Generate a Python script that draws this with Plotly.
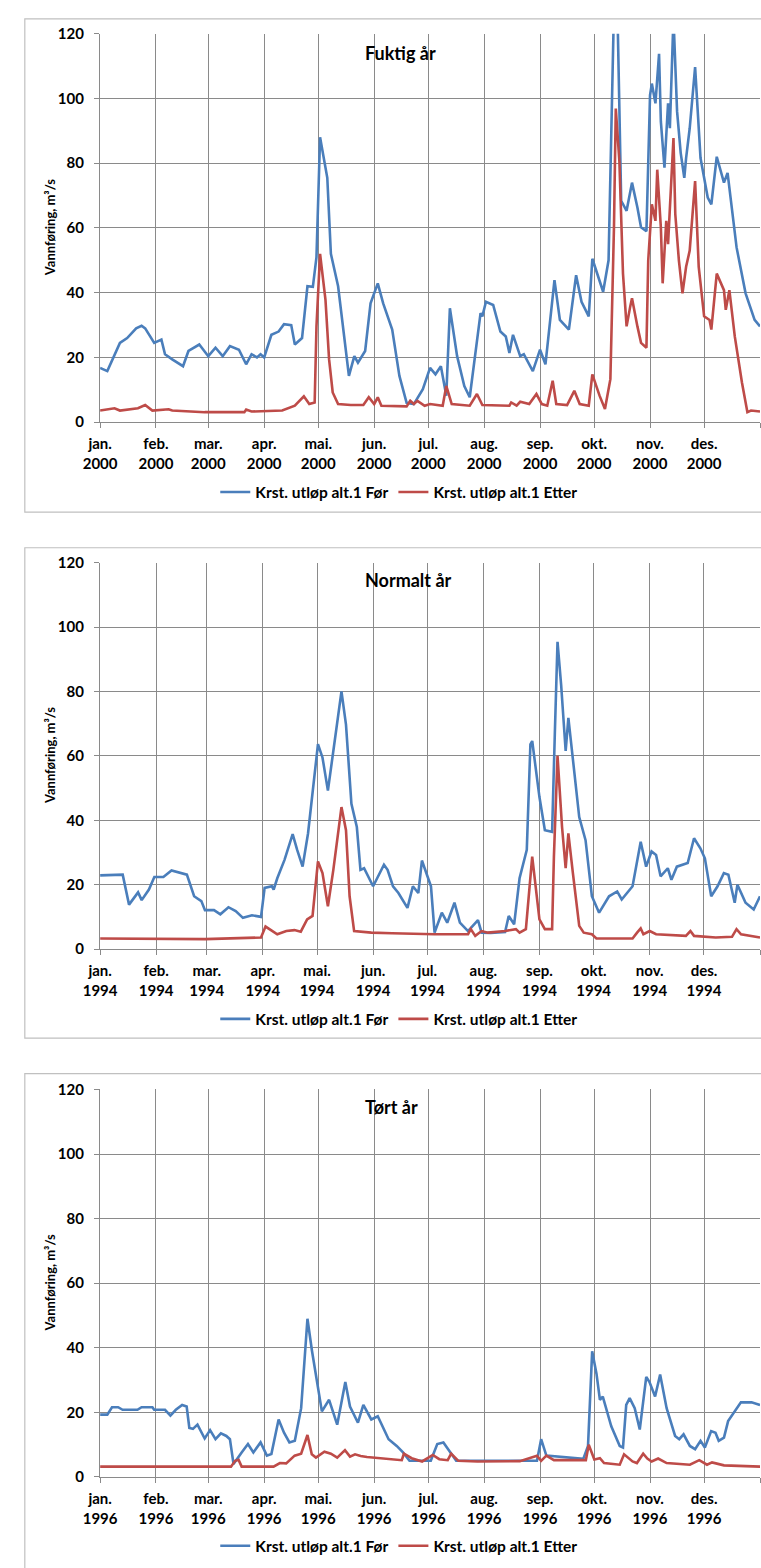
import pandas as pd
import plotly.graph_objects as go

W, H = 761, 1568
FONT = "Lato"

month_labels = ["jan.", "feb.", "mar.", "apr.", "mai.", "jun.", "jul.", "aug.", "sep.", "okt.", "nov.", "des."]
y_ticks = [0, 20, 40, 60, 80, 100, 120]
name_for = "Krst. utløp alt.1 Før"
name_etter = "Krst. utløp alt.1 Etter"
y_title = "Vannføring, m³/s"

# ---- Fuktig år (2000): day offset from 1 Jan, value m3/s ----
wet_year = 2000
wet_title = "Fuktig år"
wet_for_days = [0,4,11,15,20,23,25,28,30,34,36,40,46,49,55,60,64,68,72,77,81,84,87,89,91,95,99,102,106,108,
                112,115,118,120,122,126,128,132,136,138,141,143,147,150,154,157,162,166,170,174,179,183,186,189,192,194,198,202,205,211,
                212,214,218,222,225,227,229,233,235,240,244,247,252,255,260,264,267,271,273,279,282,285,287,289,292,295,298,300,303,305,
                306,308,310,311,313,315,316,318,320,322,324,325,327,330,333,337,339,342,346,348,353,358,363,366]
wet_for_vals = [16.8,15.8,24.5,26,29,29.8,29,26.5,24.5,25.5,21,19.4,17.3,22,24,20.4,23,20.4,23.5,22.4,
                17.9,21,20,21,20,27,28,30.3,30,24,26,42,41.8,51,88,75.5,52,42,24.5,14.3,
                20.4,18.4,22,36.7,42.9,36.7,28.6,14.3,6,5.6,10.2,16.8,14.8,17.3,8.2,35.2,20.4,11.2,7.7,33.7,
                32.7,37.2,36.2,28,26.5,21.4,27,20.4,21,15.8,22.4,17.9,43.9,31.6,28.6,45.4,37.2,32.7,50.5,40.3,
                50,128,125,68.4,65.3,74,66.3,60.2,59,101,104.6,98.5,113.8,92.9,78.6,98.5,90.8,125,96,83.2,
                75.5,81.6,90.8,109.7,81.6,69.4,67.3,82,74,77,54,39.8,31.6,29.6]
wet_etter_days = [0,8,11,21,25,29,38,40,58,80,81,84,101,108,113,116,119,120,122,125,
                  127,129,132,139,146,149,152,154,156,170,172,174,176,180,183,190,192,195,205,209,
                  212,227,228,231,233,238,242,245,248,251,253,259,263,266,271,273,277,280,283,285,
                  286,288,290,292,294,295,298,300,303,304,306,308,309,311,312,314,315,318,319,321,
                  323,325,327,330,332,335,338,339,342,346,347,349,352,356,359,361,366]
wet_etter_vals = [3.6,4.3,3.6,4.3,5.3,3.6,4,3.6,3.1,3.1,3.9,3.3,3.6,5.1,8,5.6,6.1,29.6,52,37.8,
                  19.4,9.2,5.6,5.3,5.3,7.7,5.6,7.7,5.1,4.9,6.6,5.6,6.6,5.1,5.6,5.1,11.2,5.6,5.1,8.7,
                  5.3,5.1,6.1,5.1,6.3,5.6,8.7,5.6,5.1,12.8,5.6,5.3,9.7,5.6,5.1,14.8,8.2,4.1,13.3,60.2,
                  96.9,80.6,45.9,29.6,35.7,38.3,29.6,24.5,23,50,67.3,62.2,78,60.2,42.9,62.2,55,87.8,64.3,50,
                  39.8,48,53,74.5,48,32.7,31.6,28.6,45.9,40.8,34.7,40.8,26.5,12.2,3.1,3.6,3.3]

# ---- Normalt år (1994) ----
norm_year = 1994
norm_title = "Normalt år"
norm_for_days = [0,7,12.5,16,18,21,23,27,30,35,39.5,44,48,52,56,58,63,66.5,71,75,
                 79,84,89,91,95,96,98,102,106.5,109,112,115,117,120.5,123,126,129,133.5,136,139,
                 142,144,146,151,157,159,162,165,170,173,176,178,183,185,189,192,196,199,203.5,209,
                 211,216,224,226,229,232,236,238,239,243,246,250,251.5,253,255,257.5,259,261.5,265,268.5,
                 272,276,281.5,286,288.5,294.5,299,302,305,307.5,310,314,316,319,323,325,328.5,332,334.5,338,
                 341.5,345,347.5,351,352.5,357,361.5,365]
norm_for_vals = [22.9,22.9,23.1,13.8,15.4,17.6,15.2,18.5,22.4,22.4,24.4,23.6,23.1,16.4,14.9,12.1,12.1,10.8,13,11.8,
                 9.7,10.5,10,19,19.5,18.5,22,27.7,35.7,30.8,25.6,35.9,46.2,63.6,59.5,49.2,61.5,80,69.7,45.1,
                 37.9,24.6,25.1,19.5,26.2,24.6,19.5,17.4,12.8,19.5,17.4,27.5,19.5,5.1,11.3,8.2,14.4,8.2,5.6,9,
                 5.1,5.0,5.3,10.3,7.7,22,30.8,63.6,64.6,47.2,36.9,36.4,66.7,95.4,82,61.5,71.8,59.5,41,33.8,
                 16.4,11.3,16.4,17.9,15.4,19.5,33.3,25.6,30.3,29.2,22.6,25.1,21.5,25.6,26.2,26.7,34.4,31.3,28.2,16.4,
                 19.5,23.6,23.1,14.4,20,14.4,12.3,16.4]
norm_etter_days = [0,58,89,91.5,94.5,98,103,107.5,111,114.5,117.5,120.5,123,126,129,133.5,136,138,140.5,150,
                   161.5,185,203.5,205,207.5,211,214.5,224,230,232,235.5,239,243,246,250,251,253,255.5,257.5,259,
                   261.5,265,267.5,272,274.5,294.5,297,299,300.5,304,307.5,314.5,324,326.5,328.5,340.5,349.5,352,354.5,365]
norm_etter_vals = [3.3,3.1,3.6,7,5.9,4.6,5.6,5.9,5.4,9.2,10.3,27.2,23.6,13.3,24.6,44.1,36.9,16.4,5.6,5.1,
                   4.9,4.6,4.6,6.2,4.1,5.6,5.1,5.6,6.2,5.1,6.2,28.7,9.2,6.2,6.2,28.7,60,37.9,25.1,35.9,
                   23.6,7.2,5.1,4.6,3.3,3.3,5.1,6.4,4.6,5.6,4.6,4.3,4.1,5.6,4.1,3.6,3.8,6.2,4.6,3.6]

# ---- Tørt år (1996) ----
dry_year = 1996
dry_title = "Tørt år"
dry_for_days = [0,4,6.6,10,12.5,20.7,23,29,30,36,39,42,45.5,48,49.5,51.5,54,58,61,64,
                67,70,72,74,78.5,82,85,89,92.5,95,99,102,105,108,111.5,115,117.5,119.7,123,127,
                131.5,136,138.6,143,146,150.4,154,160,164.5,168,171.6,183.4,187,190.4,194,197.5,242.3,244.6,247.5,268,
                270.6,272.9,275.3,277.2,278.8,283.5,288.2,290,291.8,293.7,296.5,299.3,302.9,304.7,307.8,310.6,314.2,318.9,321.2,323.6,
                327.1,330,333,335.4,338.9,341.3,343.1,346,348.3,351.9,355.4,361.3,366]
dry_for_vals = [19.3,19.3,21.6,21.6,20.8,20.8,21.6,21.6,20.8,20.8,19,20.8,22.3,21.8,15.2,14.9,16.2,11.9,14.5,11.7,
                13.5,12.7,11.7,4,7.6,10.2,7.6,10.7,6.6,7.1,17.8,13.7,10.7,11.2,21.3,49,39.1,32,20.3,23.9,
                16.2,29.4,21.8,16.8,22.3,17.8,18.8,11.7,9.6,7.6,5.0,5.0,10.2,10.7,7.6,5.0,5.0,11.7,6.6,5.6,
                9.6,38.9,32,23.9,24.9,15.7,9.6,9.1,22.3,24.4,21.3,14.7,31,29.4,24.9,31.7,21.3,12.7,11.7,13.2,
                9.6,8.6,11.2,9.1,14.2,13.7,11.2,12.2,17.3,20.3,23.1,23.1,22.3]
dry_etter_days = [0,72.6,74.9,76.8,78.5,96.2,99.7,103.2,107.9,111.5,115,117.4,119.7,124.4,128,131.5,135.8,138.6,141.4,144.5,
                  148,152.7,162.2,167.3,168.5,172.8,178.6,184.5,188.1,192.8,194.7,198.7,209.3,232.8,242.3,244.6,247.5,251.7,269.4,271,
                  274.1,277.2,279.5,288.2,290.6,295.3,297.7,301.2,303.5,305.9,309.5,314.2,327.1,332.3,336.6,339.4,346,366]
dry_etter_vals = [3.2,3.2,5.0,5.3,3.2,3.2,4.3,4.2,6.6,7.2,13,7,6,7.8,7.2,6,8.3,6.3,7,6.5,
                  6.2,6,5.4,5.2,7.2,5.8,4.8,6.8,5.5,5.2,7.2,5,4.8,4.9,6.6,5,6.6,5.2,5.2,10,
                  5.4,5.8,4.3,3.8,7,4.8,4.3,7.2,5.7,4.8,5.7,4.3,3.8,5.2,3.8,4.5,3.6,3.2]

BLUE = "#4A7EBB"
RED = "#BE4B48"
GRID = "#8A8A8A"
BOX = "#C0C0C0"

def px_x(x):
    return x / W

def px_y(y):
    return 1 - y / H

panels = [
    dict(year=wet_year, title=wet_title, fd=wet_for_days, fv=wet_for_vals, ed=wet_etter_days, ev=wet_etter_vals,
         top=24, bottom=417, box=(9, 508), title_y=44, legend_y=488),
    dict(year=norm_year, title=norm_title, fd=norm_for_days, fv=norm_for_vals, ed=norm_etter_days, ev=norm_etter_vals,
         top=559, bottom=950, box=(544, 1040), title_y=577, legend_y=1021),
    dict(year=dry_year, title=dry_title, fd=dry_for_days, fv=dry_for_vals, ed=dry_etter_days, ev=dry_etter_vals,
         top=1092, bottom=1484, box=(1076, 1600), title_y=1110, legend_y=1554),
]

PLOT_L, PLOT_R = 85, 760

fig = go.Figure()
layout = dict(
    width=W, height=H, margin=dict(l=0, r=0, t=0, b=0),
    paper_bgcolor="white", plot_bgcolor="white", showlegend=True,
    annotations=[], shapes=[],
)

for i, p in enumerate(panels, start=1):
    sfx = "" if i == 1 else str(i)
    base = pd.Timestamp(f"{p['year']}-01-01")
    fx = base + pd.to_timedelta(p["fd"], unit="D")
    ex = base + pd.to_timedelta(p["ed"], unit="D")
    leg = "legend" if i == 1 else f"legend{i}"
    fig.add_trace(go.Scatter(x=fx, y=p["fv"], mode="lines", name=name_for,
                             line=dict(color=BLUE, width=2.6), xaxis=f"x{sfx}", yaxis=f"y{sfx}", legend=leg))
    fig.add_trace(go.Scatter(x=ex, y=p["ev"], mode="lines", name=name_etter,
                             line=dict(color=RED, width=2.6), xaxis=f"x{sfx}", yaxis=f"y{sfx}", legend=leg))

    tickvals = [pd.Timestamp(f"{p['year']}-{m:02d}-01") for m in range(1, 13)] + [pd.Timestamp(f"{p['year'] + 1}-01-01")]
    ticktext = [f"{lab}<br>{p['year']}" for lab in month_labels] + [""]
    layout[f"xaxis{sfx}"] = dict(
        domain=[px_x(PLOT_L), px_x(PLOT_R)], anchor=f"y{sfx}", type="date",
        range=[base, pd.Timestamp(f"{p['year'] + 1}-01-01")],
        tickmode="array", tickvals=tickvals, ticktext=ticktext,
        showgrid=True, gridcolor=GRID, gridwidth=1.4,
        ticks="outside", ticklen=5, tickcolor=GRID, tickwidth=1.4,
        showline=True, linecolor=GRID, linewidth=1.4,
        tickfont=dict(family=FONT, size=15, color="black", weight="bold"),
        ticklabelstandoff=3, fixedrange=True,
    )
    layout[f"yaxis{sfx}"] = dict(
        domain=[px_y(p["bottom"]), px_y(p["top"])], anchor=f"x{sfx}",
        range=[0, 120], tickmode="array", tickvals=y_ticks,
        showgrid=True, gridcolor=GRID, gridwidth=1.4, zeroline=False,
        ticks="outside", ticklen=5, tickcolor=GRID, tickwidth=1.4,
        showline=True, linecolor=GRID, linewidth=1.4,
        tickfont=dict(family=FONT, size=15, color="black", weight="bold"),
        ticklabelstandoff=7, fixedrange=True,
    )
    layout[leg] = dict(
        orientation="h", x=px_x(391), xanchor="center", y=px_y(p["legend_y"]), yanchor="middle",
        font=dict(family=FONT, size=15.5, color="black", weight="bold"),
        bgcolor="rgba(0,0,0,0)", itemwidth=30, tracegroupgap=0,
    )
    layout["annotations"].append(dict(
        text=p["title"], xref="paper", yref="paper", x=px_x(354), y=px_y(p["title_y"]),
        xanchor="left", yanchor="middle", showarrow=False,
        font=dict(family=FONT, size=18, color="black", weight="bold"),
    ))
    layout["annotations"].append(dict(
        text=y_title, xref="paper", yref="paper", x=px_x(34), y=px_y((p["top"] + p["bottom"]) / 2),
        xanchor="center", yanchor="middle", showarrow=False, textangle=-90,
        font=dict(family=FONT, size=13, color="black", weight="bold"),
    ))
    layout["shapes"].append(dict(
        type="rect", xref="paper", yref="paper", x0=px_x(8), x1=px_x(800),
        y0=px_y(p["box"][1]), y1=px_y(p["box"][0]),
        line=dict(color=BOX, width=1.2), fillcolor="rgba(0,0,0,0)", layer="below",
    ))

fig.update_layout(**layout)
fig.write_html("out.html", post_script="document.body.style.margin='0px';document.body.style.overflow='hidden';")
